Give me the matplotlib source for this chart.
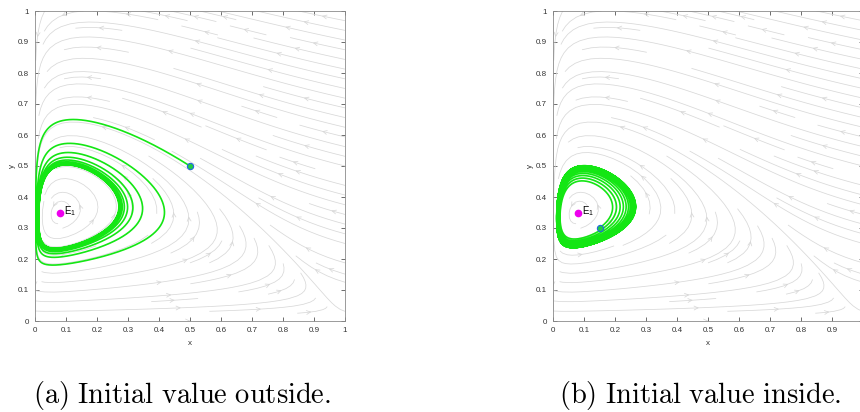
import numpy as np
import matplotlib
matplotlib.use("Agg")
import matplotlib.pyplot as plt

plt.rcParams["font.family"] = ["Liberation Sans", "DejaVu Sans"]
plt.rcParams["mathtext.fontset"] = "cm"

# interior equilibrium E1 and the two starting points
E1 = (0.08, 0.35)
START_OUTSIDE = (0.5, 0.5)
START_INSIDE = (0.15, 0.3)

# prey-predator model parameters (Holling II response, logistic prey,
# weak predator self-limitation); d and a are fixed by the position of E1
B_HALF = 0.5       # half-saturation constant
C_CONV = 0.5       # conversion rate
E_SELF = 0.1       # predator intraspecific competition
D_DEATH = C_CONV * E1[0] / (B_HALF + E1[0]) - E_SELF * E1[1]
A_ATTACK = (1 - E1[0]) * (B_HALF + E1[0]) / E1[1]

TICKS = np.round(np.arange(0, 1.01, 0.1), 1)
TICK_LABELS = ["0", "0.1", "0.2", "0.3", "0.4", "0.5", "0.6", "0.7", "0.8", "0.9", "1"]
CAPTIONS = ["(a) Initial value outside.", "(b) Initial value inside."]


def field(x, y):
    fr = A_ATTACK * x * y / (B_HALF + x)
    dx = x * (1 - x) - fr
    dy = y * (C_CONV * x / (B_HALF + x) - D_DEATH - E_SELF * y)
    return dx, dy


def orbit(x0, y0, t_end, dt=0.02):
    n = int(t_end / dt)
    xs = np.empty(n + 1)
    ys = np.empty(n + 1)
    x, y = x0, y0
    xs[0], ys[0] = x, y
    for i in range(n):
        k1 = field(x, y)
        k2 = field(x + dt / 2 * k1[0], y + dt / 2 * k1[1])
        k3 = field(x + dt / 2 * k2[0], y + dt / 2 * k2[1])
        k4 = field(x + dt * k3[0], y + dt * k3[1])
        x += dt / 6 * (k1[0] + 2 * k2[0] + 2 * k3[0] + k4[0])
        y += dt / 6 * (k1[1] + 2 * k2[1] + 2 * k3[1] + k4[1])
        xs[i + 1], ys[i + 1] = x, y
    return xs, ys


def as_roman(s):
    return r"$\mathrm{" + s.replace(" ", r"\ ") + "}$"


gx, gy = np.meshgrid(np.linspace(0, 1, 120), np.linspace(0, 1, 120))
u, v = field(gx, gy)

fig = plt.figure(figsize=(8.6, 4.12), dpi=100)
ax_a = fig.add_axes([35 / 860, 91 / 412, 310 / 860, 310 / 412])
ax_b = fig.add_axes([553 / 860, 91 / 412, 310 / 860, 310 / 412])

panels = [(ax_a, START_OUTSIDE, 320), (ax_b, START_INSIDE, 500)]
for k, (ax, start, t_end) in enumerate(panels):
    ax.streamplot(gx, gy, u, v, density=1.1, color="#d8d8d8", linewidth=0.55,
                  arrowsize=0.7, arrowstyle="->")
    ox, oy = orbit(start[0], start[1], t_end)
    ax.plot(ox, oy, color="#14e614", lw=1.2, zorder=3)
    ax.plot(*start, "o", ms=4.5, mfc="#22cc44", mec="#2266dd", mew=0.8, zorder=4)
    ax.plot(*E1, "o", ms=4.5, mfc="#ee00ee", mec="#ee00ee", zorder=4)
    ax.text(E1[0] + 0.013, E1[1] - 0.005, r"$\mathregular{E_1}$", fontsize=7,
            ha="left", va="baseline", zorder=5)

    ax.set_xlim(0, 1)
    ax.set_ylim(0, 1)
    ax.set_xticks(TICKS)
    # the last x label of panel (b) falls past the right edge of the figure
    ax.set_xticklabels(TICK_LABELS if k == 0 else TICK_LABELS[:-1] + [""])
    ax.set_yticks(TICKS)
    ax.set_yticklabels(TICK_LABELS)
    ax.tick_params(direction="in", length=3, width=0.5, labelsize=5.8, colors="#333333",
                   top=True, right=True, pad=4.5)
    for sp in ax.spines.values():
        sp.set_color("#8a8a8a")
        sp.set_linewidth(0.6)
    ax.set_xlabel("x", fontsize=5.8, color="#333333", va="center")
    ax.set_ylabel("y", fontsize=5.8, color="#333333", va="center")
    ax.xaxis.set_label_coords(0.5, -0.074)
    ax.yaxis.set_label_coords(-0.074, 0.5)

fig.text(182 / 860, 1 - 403 / 412, as_roman(CAPTIONS[0]), fontsize=20.5,
         ha="center", va="baseline")
fig.text(700 / 860, 1 - 403 / 412, as_roman(CAPTIONS[1]), fontsize=20.5,
         ha="center", va="baseline")

fig.savefig("out.png", dpi=100)
